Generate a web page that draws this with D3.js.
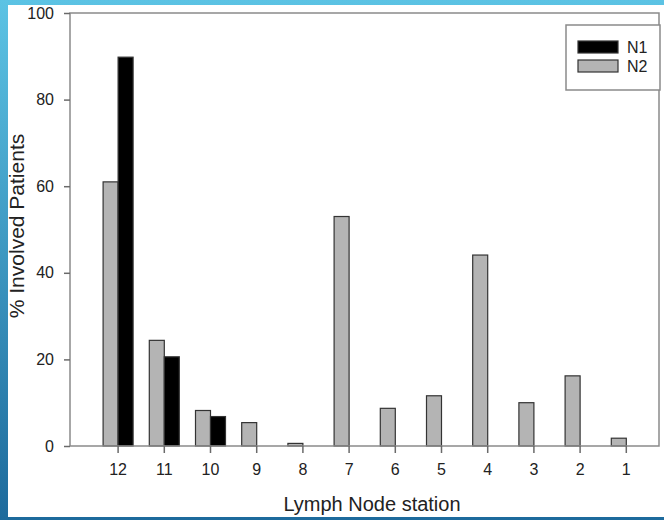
<!DOCTYPE html>
<html lang="en">

<head>
    <meta charset="UTF-8">
    <script src="https://cdn.jsdelivr.net/npm/d3@7/dist/d3.min.js" charset="utf-8"></script>
    <title>Lymph Node station</title>
    <style>
        body { margin: 0; overflow: hidden; }
        text { font-family: "Liberation Sans", Arial, sans-serif; fill: #222; }
    </style>
</head>

<body>
    <script>
        // stations, left to right
        var stations = ["12", "11", "10", "9", "8", "7", "6", "5", "4", "3", "2", "1"];
        var n1 = [89.8, 20.6, 6.8, 0, 0, 0, 0, 0, 0, 0, 0, 0];
        var n2 = [61.0, 24.4, 8.2, 5.4, 0.6, 53.0, 8.7, 11.6, 44.1, 10.0, 16.2, 1.8];
        var yTicks = [0, 20, 40, 60, 80, 100];
        var seriesNames = ["N1", "N2"];
        var seriesColors = ["#000000", "#b4b4b4"];

        var width = 664, height = 520;
        var plotLeft = 70, plotRight = 659, plotTop = 13, plotBottom = 446;

        var svg = d3.select("body").append("svg").attr("width", width).attr("height", height);

        // slide background
        var grad = svg.append("defs").append("linearGradient").attr("id", "bg")
            .attr("x1", 0).attr("y1", 0).attr("x2", 0).attr("y2", 1);
        grad.append("stop").attr("offset", "0%").attr("stop-color", "#5cc3e4");
        grad.append("stop").attr("offset", "100%").attr("stop-color", "#1d6a9c");
        svg.append("rect").attr("width", width).attr("height", height).attr("fill", "url(#bg)");
        svg.append("rect").attr("x", 8).attr("y", 5).attr("width", width - 8).attr("height", 512).attr("fill", "#fff");

        var x = d3.scaleBand().domain(stations).range([95, 649.4]);
        var sub = d3.scaleBand().domain(["N2", "N1"])
            .range([x.bandwidth() / 2 - 15, x.bandwidth() / 2 + 15]);
        var y = d3.scaleLinear().domain([0, 100]).range([plotBottom, plotTop]);

        var rows = stations.map(function (s, i) {
            return { station: s, N1: n1[i], N2: n2[i] };
        });

        // bars
        var groups = svg.selectAll("g.st").data(rows).enter().append("g")
            .attr("class", "st")
            .attr("transform", function (d) { return "translate(" + x(d.station) + ",0)"; });

        groups.selectAll("rect").data(function (d) {
            return [{ key: "N2", v: d.N2 }, { key: "N1", v: d.N1 }].filter(function (e) { return e.v > 0; });
        }).enter().append("rect")
            .attr("x", function (d) { return sub(d.key); })
            .attr("width", sub.bandwidth())
            .attr("y", function (d) { return y(d.v); })
            .attr("height", function (d) { return plotBottom - y(d.v); })
            .attr("fill", function (d) { return d.key == "N1" ? seriesColors[0] : seriesColors[1]; })
            .attr("stroke", "#333")
            .attr("stroke-width", 1.2);

        // frame
        svg.append("rect").attr("x", plotLeft).attr("y", plotTop)
            .attr("width", plotRight - plotLeft).attr("height", plotBottom - plotTop)
            .attr("fill", "none").attr("stroke", "#8a8a8a").attr("stroke-width", 1.5);

        // axes
        var xAxis = svg.append("g").attr("transform", "translate(0," + plotBottom + ")")
            .call(d3.axisBottom(x).tickSize(7).tickPadding(11));
        var yAxis = svg.append("g").attr("transform", "translate(" + plotLeft + ",0)")
            .call(d3.axisLeft(y).tickValues(yTicks).tickSize(6).tickPadding(10));

        [xAxis, yAxis].forEach(function (a) {
            a.select(".domain").remove();
            a.selectAll("line").attr("stroke", "#6a6a6a").attr("stroke-width", 1.5);
            a.selectAll("text").style("font-size", "16px").attr("fill", "#333")
                .style("font-family", "'Liberation Sans', Arial, sans-serif");
        });

        // titles
        svg.append("text").attr("x", 372).attr("y", 511).attr("text-anchor", "middle")
            .style("font-size", "20px").attr("fill", "#222").text("Lymph Node station");
        svg.append("text").attr("transform", "translate(24,226) rotate(-90)")
            .attr("text-anchor", "middle").style("font-size", "21px").attr("fill", "#222")
            .text("% Involved Patients");

        // legend
        var legend = svg.append("g");
        legend.append("rect").attr("x", 566).attr("y", 25).attr("width", 94).attr("height", 65)
            .attr("fill", "#fff").attr("stroke", "#8a8a8a").attr("stroke-width", 1.5);
        var items = legend.selectAll("g").data(seriesNames).enter().append("g")
            .attr("transform", function (d, i) { return "translate(578," + (41 + i * 19) + ")"; });
        items.append("rect").attr("width", 40).attr("height", 12)
            .attr("fill", function (d, i) { return seriesColors[i]; })
            .attr("stroke", "#333").attr("stroke-width", 1.2);
        items.append("text").attr("x", 49).attr("y", 12).style("font-size", "16px").text(function (d) { return d; });
    </script>
</body>

</html>
